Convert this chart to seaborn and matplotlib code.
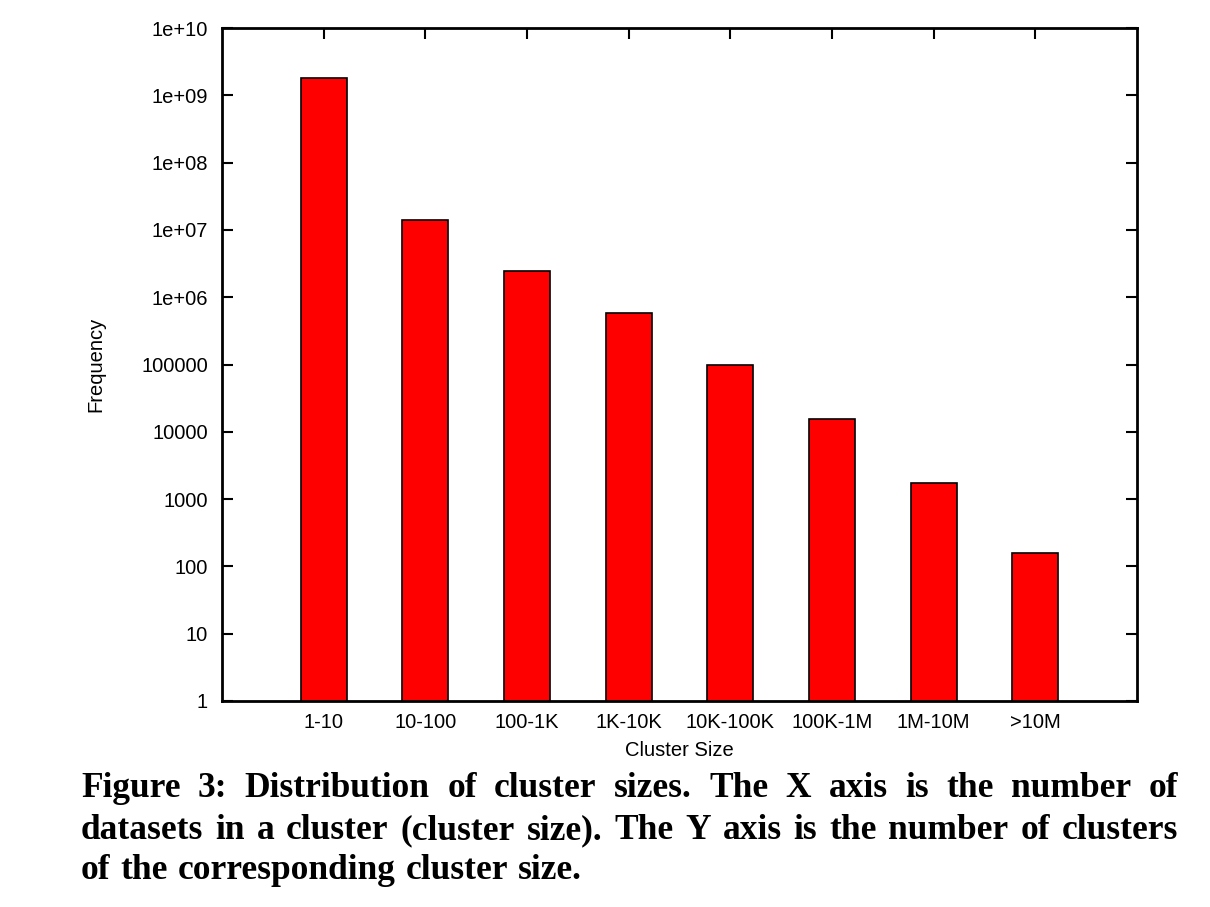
import numpy as np
import pandas as pd
import seaborn as sns
import matplotlib.pyplot as plt

sizes = ["1-10", "10-100", "100-1K", "1K-10K", "10K-100K", "100K-1M", "1M-10M", ">10M"]
freq = [1.8e9, 1.4e7, 2.45e6, 5.8e5, 9.8e4, 1.55e4, 1.73e3, 158]
ytick_vals = [1, 10, 100, 1000, 10000, 100000, 1e6, 1e7, 1e8, 1e9, 1e10]
ytick_labels = ["1", "10", "100", "1000", "10000", "100000",
                "1e+06", "1e+07", "1e+08", "1e+09", "1e+10"]
caption = [
    "Figure 3:  Distribution of cluster sizes.  The X axis is the number of",
    "datasets in a cluster (cluster size). The Y axis is the number of clusters",
    "of the corresponding cluster size.",
]

sns.set_style("ticks", {"axes.edgecolor": "black", "text.color": "black",
                        "xtick.color": "black", "ytick.color": "black",
                        "axes.labelcolor": "black"})
plt.rcParams["font.family"] = ["Liberation Sans", "DejaVu Sans"]

df = pd.DataFrame({"Cluster Size": sizes, "Frequency": freq})

fig = plt.figure(figsize=(12.1, 9.07), dpi=100)
ax = fig.add_axes([222 / 1210, 1 - 701 / 907, (1137 - 222) / 1210, (701 - 28) / 907])
sns.barplot(df, x="Cluster Size", y="Frequency", color="#ff0000", saturation=1,
            edgecolor="black", linewidth=1.2, width=0.45, ax=ax)
ax.set_yscale("log", nonpositive="clip")
ax.set_xlim(-1, 8)
ax.set_ylim(1, 1e10)
ax.set_yticks(ytick_vals, ytick_labels)
ax.minorticks_off()
ax.tick_params(direction="in", length=8, width=1.5, labelsize=14.5, top=True, right=True,
               pad=10, colors="black")
ax.tick_params(axis="y", labelright=False)
ax.tick_params(axis="x", bottom=False, labeltop=False, pad=9)
for s in ax.spines.values():
    s.set_linewidth(2)
    s.set_color("black")
    s.set_visible(True)
ax.set_xlabel("Cluster Size", fontsize=14.5, labelpad=6, color="black")
ax.set_ylabel("Frequency", fontsize=14.5, labelpad=26, color="black")

# justified caption
left, right = 81, 1178
baselines = [797, 839, 879]
fs = 27.5
renderer = fig.canvas.get_renderer()


def word_w(w, size):
    t = fig.text(0, 0, w, fontsize=size, family="Liberation Serif", weight="bold")
    bb = t.get_window_extent(renderer)
    t.remove()
    return bb.width


while True:
    widest = max(sum(word_w(w, fs) for w in line.split()) + 0.6 * word_w("n", fs) * (len(line.split()) - 1)
                 for line in caption[:2])
    if widest <= right - left or fs < 15:
        break
    fs -= 0.25

for i, line in enumerate(caption):
    words = line.split()
    widths = [word_w(w, fs) for w in words]
    if i < len(caption) - 1:
        gap = (right - left - sum(widths)) / (len(words) - 1)
    else:
        gap = 0.5 * word_w("n", fs)
    x = left
    for w, wd in zip(words, widths):
        fig.text(x / 1210, 1 - baselines[i] / 907, w, fontsize=fs, family="Liberation Serif",
                 weight="bold", va="baseline", ha="left", color="black")
        x += wd + gap

fig.savefig("out.png", dpi=100)
